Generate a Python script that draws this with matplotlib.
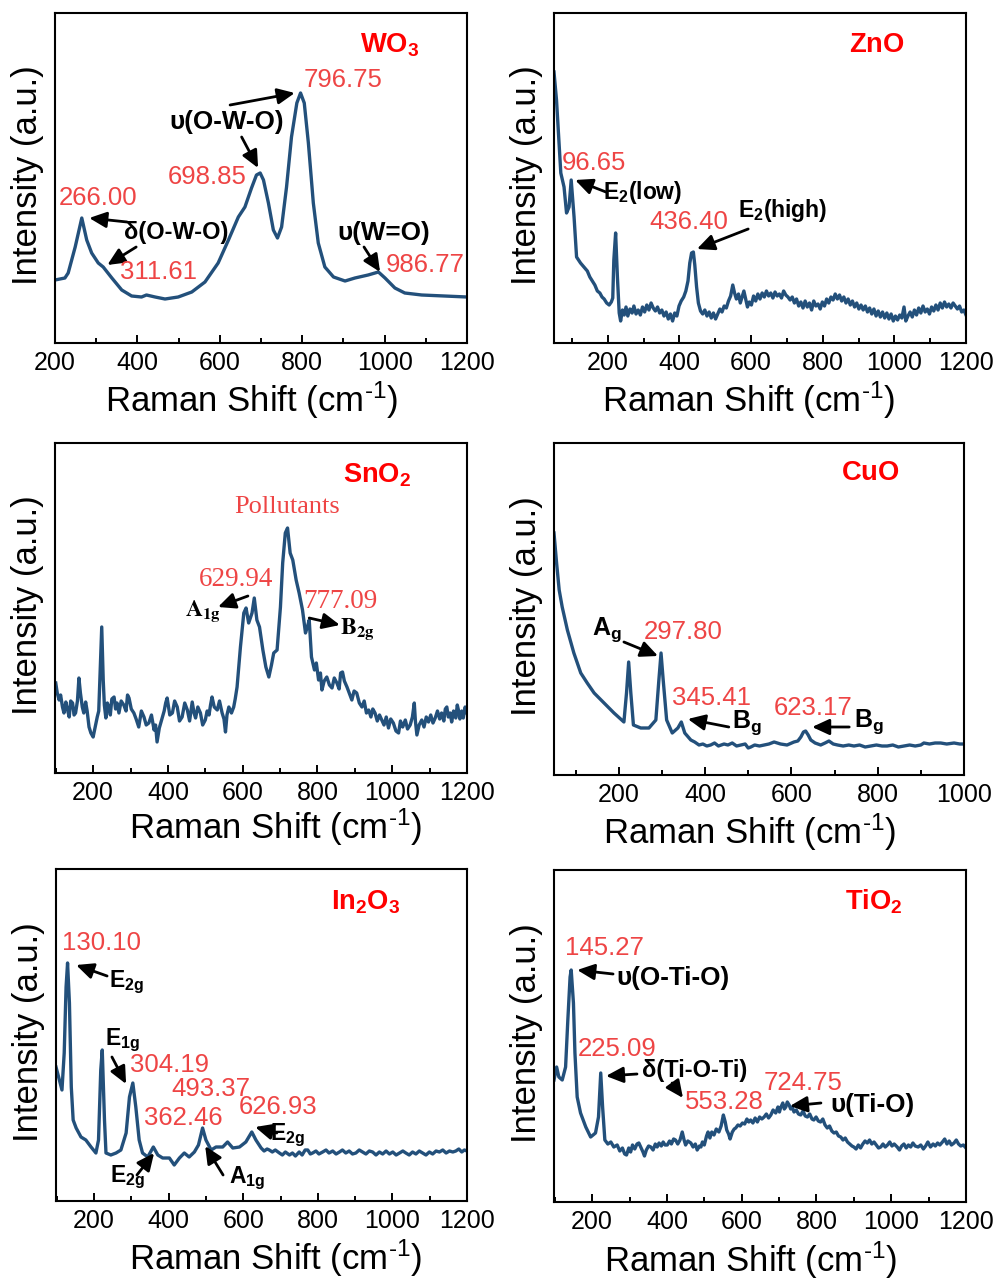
import matplotlib
matplotlib.use('Agg')
import matplotlib.pyplot as plt
from matplotlib.ticker import MultipleLocator

plt.rcParams['font.family'] = ['Liberation Sans', 'DejaVu Sans']
plt.rcParams['mathtext.fontset'] = 'custom'
plt.rcParams['mathtext.rm'] = 'Liberation Sans'
plt.rcParams['mathtext.bf'] = 'Liberation Sans:bold'
plt.rcParams['mathtext.it'] = 'Liberation Sans:italic'

# ---------------- data (Raman shift in cm-1, intensity in a.u.) ----------------
wo3_x = [200, 224, 232, 249, 265, 277, 289, 305, 317, 338, 362, 386, 410, 422, 443, 467, 499, 532, 564, 596,
         621, 645, 661, 677, 689, 698, 706, 718, 730, 740, 750, 762, 774, 787, 796, 805, 815, 827, 839, 855,
         876, 904, 928, 960, 985, 1001, 1025, 1049, 1090, 1200]
wo3_y = [63, 65, 70, 96, 125, 103, 90, 80, 76, 65, 53, 47, 46, 48, 46, 44, 46, 51, 61, 80,
         103, 126, 136, 155, 168, 170, 163, 140, 113, 105, 116, 156, 206, 240, 250, 240, 200, 140, 100, 76,
         66, 62, 65, 68, 71, 65, 55, 50, 48, 46]

zno_x = [50, 57, 64, 69, 78, 85, 92, 98, 106, 113, 124, 136, 143, 150, 157, 164, 171, 178, 184, 190,
         197, 204, 210, 214, 217, 222, 227, 232, 236, 241, 246, 251, 256, 262, 268, 273, 279, 285, 291, 297,
         303, 309, 315, 321, 327, 333, 339, 345, 351, 357, 363, 369, 375, 381, 387, 393, 399, 405, 412, 418,
         424, 429, 434, 439, 443, 448, 453, 459, 465, 471, 477, 483, 489, 495, 501, 507, 513, 519, 525, 531,
         537, 543, 549, 554, 559, 565, 570, 575, 580, 585, 590, 595, 601, 607, 613, 619, 625, 631, 637, 643,
         649, 655, 661, 667, 673, 679, 685, 691, 697, 703, 709, 715, 721, 727, 733, 739, 745, 751, 757, 763,
         769, 775, 781, 787, 793, 799, 805, 811, 817, 823, 829, 835, 841, 847, 853, 859, 865, 871, 877, 883,
         889, 895, 901, 907, 913, 919, 925, 931, 937, 943, 949, 955, 961, 967, 973, 979, 985, 991, 997, 1003,
         1009, 1015, 1021, 1027, 1032, 1038, 1044, 1050, 1056, 1062, 1068, 1074, 1080, 1086, 1092, 1098, 1104,
         1110, 1116, 1122, 1128, 1134, 1140, 1146, 1152, 1158, 1164, 1170, 1176, 1182, 1188, 1194, 1200]
zno_y = [271, 243, 200, 170, 156, 130, 136, 163, 126, 86, 80, 75, 72, 66, 62, 58, 52, 50, 46, 44,
         40, 38, 41, 45, 83, 110, 66, 30, 22, 33, 28, 36, 27, 34, 30, 37, 29, 33, 28, 36,
         31, 38, 33, 40, 35, 32, 36, 30, 33, 27, 31, 24, 29, 22, 30, 27, 37, 42, 46, 52,
         62, 80, 90, 91, 78, 56, 40, 32, 29, 33, 27, 31, 25, 30, 24, 29, 34, 31, 37, 35,
         42, 47, 58, 50, 44, 49, 40, 46, 52, 44, 36, 41, 38, 47, 42, 49, 44, 50, 46, 52,
         47, 50, 45, 51, 47, 49, 45, 52, 48, 46, 43, 46, 40, 44, 37, 41, 35, 42, 36, 40,
         33, 42, 37, 39, 34, 41, 37, 44, 40, 46, 43, 49, 44, 48, 42, 46, 40, 44, 38, 42,
         36, 40, 34, 38, 33, 37, 31, 35, 29, 34, 27, 32, 26, 31, 25, 30, 24, 29, 22, 27,
         23, 28, 25, 36, 22, 27, 31, 26, 33, 28, 35, 30, 37, 31, 34, 29, 36,
         32, 38, 33, 40, 35, 41, 36, 39, 35, 40, 37, 34, 37, 31, 33, 28]

sno2_x = [100, 104, 109, 113, 118, 122, 127, 131, 136, 140,
          145, 149, 153, 158, 162, 166, 171, 175, 180, 184,
          189, 194, 200, 205, 211, 215, 218, 223, 227, 230,
          234, 238, 242, 246, 250, 256, 260, 264, 269, 275,
          282, 288, 292, 296, 302, 309, 315, 322, 329, 336,
          342, 349, 356, 363, 367, 371, 377, 383, 390, 394,
          398, 405, 412, 418, 425, 431, 438, 445, 452, 458,
          465, 470, 474, 480, 487, 493, 500, 505, 510, 514,
          518, 524, 532, 538, 545, 550, 554, 558, 563, 570,
          576, 580, 585, 594, 603, 609, 616, 625, 631, 638,
          645, 654, 662, 670, 677, 683, 692, 701, 707, 714,
          720, 727, 734, 743, 751, 760, 768, 773, 778, 784,
          792, 797, 803, 808, 812, 818, 825, 832, 839, 845,
          852, 858, 862, 867, 872, 879, 885, 892, 898, 905,
          912, 919, 925, 931, 937, 943, 948, 954, 960, 966,
          972, 978, 984, 990, 996, 1003, 1010, 1017, 1022, 1028,
          1035, 1041, 1048, 1054, 1059, 1062, 1066, 1072, 1079, 1085,
          1091, 1097, 1103, 1109, 1115, 1121, 1127, 1132, 1138, 1142,
          1146, 1150, 1155, 1159, 1164, 1170, 1174, 1177, 1181, 1186,
          1190, 1195, 1200]
sno2_y = [90, 80, 73, 78, 66, 60, 71, 64, 56, 72,
          70, 58, 60, 72, 95, 80, 66, 60, 71, 62,
          46, 40, 36, 45, 56, 62, 93, 146, 93, 68,
          55, 70, 66, 58, 74, 76, 64, 70, 60, 72,
          68, 62, 78, 75, 64, 60, 54, 46, 62, 56,
          48, 50, 58, 43, 48, 31, 45, 53, 62, 70,
          75, 58, 60, 72, 66, 52, 56, 70, 63, 52,
          71, 60, 55, 66, 60, 48, 53, 62, 58, 68,
          76, 66, 63, 72, 60, 54, 41, 58, 66, 60,
          66, 74, 86, 126, 160, 165, 150, 160, 175, 153,
          146, 123, 106, 96, 108, 120, 123, 166, 210, 240,
          245, 220, 213, 193, 180, 163, 140, 146, 153, 116,
          103, 110, 93, 100, 83, 92, 96, 88, 85, 95,
          90, 84, 100, 101, 92, 86, 80, 73, 82, 80,
          70, 66, 72, 60, 63, 56, 64, 60, 52, 58,
          53, 48, 56, 45, 54, 50, 42, 40, 52, 46,
          53, 44, 48, 56, 70, 52, 38, 48, 53, 46,
          56, 51, 58, 50, 55, 62, 54, 60, 52, 64,
          66, 56, 60, 51, 62, 55, 68, 63, 54, 62,
          55, 66, 60]

cuo_x = [50, 56, 62, 69, 81, 96, 112, 127, 143, 166, 189, 212, 218, 223, 228, 234, 251, 270, 286, 293,
         298, 303, 311, 324, 337, 345, 353, 367, 376, 386, 395, 404, 413, 422, 431, 444, 453, 463, 473, 483,
         493, 500, 506, 515, 526, 537, 548, 560, 575, 590, 606, 615, 622, 628, 633, 639, 645, 655, 668, 678,
         687, 697, 707, 720, 733, 745, 758, 771, 784, 797, 810, 822, 835, 848, 861, 874, 887, 900, 907, 920,
         933, 946, 960, 977, 990, 1000]
cuo_y = [242, 212, 185, 168, 145, 122, 102, 92, 82, 72, 62, 53, 82, 113, 82, 50, 47, 47, 55, 95,
         122, 95, 55, 42, 47, 53, 42, 35, 33, 30, 31, 29, 30, 32, 29, 31, 30, 32, 29, 30,
         31, 27, 28, 30, 29, 30, 31, 33, 31, 30, 33, 34, 38, 43, 44, 40, 35, 32, 30, 32,
         34, 31, 30, 29, 30, 29, 30, 28, 29, 30, 29, 29, 30, 28, 29, 30, 29, 30, 32, 31,
         32, 32, 31, 32, 31, 31]

in2o3_x = [98, 105, 114, 120, 125, 129, 134, 139, 144, 152, 165, 178, 192, 205, 212, 218, 222, 228, 232, 245,
           259, 272, 286, 295, 304, 312, 321, 330, 344, 359, 371, 384, 402, 415, 429, 442, 455, 469, 480, 491,
           500, 514, 527, 545, 558, 572, 590, 607, 623, 634, 648, 656, 664, 670, 678, 686, 697, 705, 713, 724,
           732, 740, 750, 758, 766, 773, 780, 786, 795, 803, 813, 822, 830, 840, 849, 858, 866, 875, 884, 893,
           902, 911, 920, 929, 938, 947, 956, 965, 974, 983, 992, 1001, 1010, 1019, 1028, 1036, 1045, 1054,
           1063, 1072, 1081, 1090, 1099, 1108, 1117, 1126, 1135, 1144, 1153, 1162, 1170, 1178, 1186, 1193, 1200]
in2o3_y = [134, 124, 111, 148, 214, 238, 198, 114, 81, 73, 64, 61, 54, 48, 61, 131, 151, 81, 48, 46,
           48, 51, 68, 104, 118, 94, 61, 48, 44, 54, 46, 43, 43, 36, 43, 48, 44, 49, 56, 73,
           61, 51, 54, 54, 59, 53, 54, 59, 69, 61, 53, 50, 52, 51, 49, 51, 48, 46, 49, 46,
           48, 45, 49, 46, 51, 51, 47, 48, 50, 47, 49, 51, 48, 50, 47, 49, 51, 48, 50, 47,
           48, 51, 49, 47, 50, 49, 46, 49, 47, 50, 47, 49, 46, 48, 50, 48, 46, 49,
           47, 50, 48, 46, 49, 47, 50, 49, 51, 48, 50, 49, 50, 52, 49, 51, 50]

tio2_x = [98, 105, 111, 120, 129, 135, 141, 144, 150, 154, 160, 169, 183, 196, 209, 217, 223, 228, 234, 242,
          250, 258, 267, 274, 281, 287, 292, 298, 303, 308, 314, 320, 325, 331, 336, 340, 345, 351, 357, 363,
          369, 374, 379, 385, 390, 395, 401, 407, 412, 418, 423, 429, 435, 441, 446, 450, 456, 464, 470, 476,
          481, 487, 491, 495, 500, 506, 510, 515, 520, 526, 532, 539, 545, 551, 556, 560, 565, 569, 575, 580,
          584, 590, 596, 602, 608, 614, 619, 624, 630, 636, 642, 648, 654, 660, 666, 672, 678, 684, 691, 697,
          701, 704, 710, 714, 718, 722, 727, 731, 735, 740, 746, 752, 758, 764, 770, 776, 782, 788, 793, 799,
          805, 811, 817, 823, 829, 835, 841, 847, 853, 859, 865, 871, 877, 883, 889, 895, 900, 906, 912, 918,
          924, 930, 936, 942, 948, 954, 960, 966, 972, 978, 984, 990, 996, 1002, 1008, 1016, 1022, 1028, 1034,
          1040, 1046, 1052, 1058, 1064, 1072, 1079, 1086, 1092, 1098, 1105, 1112, 1118, 1124, 1130, 1137, 1143,
          1149, 1155, 1161, 1168, 1174, 1180, 1186, 1193, 1200]
tio2_y = [122, 135, 125, 122, 135, 182, 225, 232, 199, 149, 105, 89, 75, 65, 69, 85, 129, 95, 62, 58,
          60, 55, 57, 51, 54, 48, 47, 54, 50, 57, 53, 58, 59, 54, 50, 46, 52, 56, 55, 52,
          58, 55, 59, 56, 60, 57, 57, 61, 58, 63, 62, 58, 62, 70, 62, 57, 61, 59, 55, 58,
          52, 56, 55, 60, 57, 66, 70, 64, 70, 67, 73, 70, 76, 87, 80, 72, 68, 63, 70, 73,
          74, 77, 76, 79, 78, 83, 80, 82, 79, 84, 80, 85, 83, 85, 88, 84, 87, 92, 89, 95,
          90, 94, 99, 93, 95, 100, 97, 93, 95, 90, 92, 88, 87, 91, 86, 85, 88, 83, 82, 85,
          81, 80, 83, 77, 74, 76, 71, 69, 70, 66, 65, 62, 64, 60, 58, 56, 55, 53, 57, 54,
          58, 61, 59, 62, 58, 60, 57, 54, 55, 58, 55, 57, 60, 56, 58, 55, 52, 56, 58,
          54, 57, 55, 59, 56, 55, 57, 53, 56, 60, 55, 58, 56, 59, 57, 60, 63,
          58, 61, 57, 59, 62, 58, 56, 57, 54]

titles = [r'$\mathbf{WO_3}$', r'$\mathbf{ZnO}$', r'$\mathbf{SnO_2}$',
          r'$\mathbf{CuO}$', r'$\mathbf{In_2O_3}$', r'$\mathbf{TiO_2}$']

# ---------------- style ----------------
W, H = 997, 1279
LINE = '#23507B'
NUM = '#EE4545'
TITLE = '#FF0000'
LW = 2.4

fig = plt.figure(figsize=(W / 100, H / 100), dpi=100)


def add_ax(l, r, t, b):
    return fig.add_axes([l / W, 1 - b / H, (r - l) / W, (b - t) / H])


def style(ax, xlim, ymax, xlab_x, xlab_y):
    ax.set_xlim(*xlim)
    ax.set_ylim(0, ymax)
    ax.set_yticks([])
    ax.xaxis.set_major_locator(MultipleLocator(200))
    ax.xaxis.set_minor_locator(MultipleLocator(100))
    ax.tick_params(axis='x', which='both', direction='in', top=False, labelsize=18, width=1.4, pad=6)
    ax.tick_params(axis='x', which='major', length=6)
    ax.tick_params(axis='x', which='minor', length=3.5)
    for s in ax.spines.values():
        s.set_linewidth(1.5)
    ax.set_xlabel('Raman Shift (cm$^{\u2010\\mathrm{1}}$)', fontsize=25, va='center')
    ax.xaxis.set_label_coords(xlab_x, xlab_y)
    ax.set_ylabel('Intensity (a.u.)', fontsize=25, va='center', ha='center')
    ax.yaxis.set_label_coords(-0.066, 0.51)


def arrow(ax, tail, tip):
    ax.annotate('', xy=tip, xytext=tail,
                arrowprops=dict(arrowstyle='-|>,head_length=0.65,head_width=0.3', color='black',
                                lw=2.0, shrinkA=0, shrinkB=0, mutation_scale=16))


def num(ax, x, y, s, **kw):
    ax.text(x, y, s, ha='center', va='center', fontsize=18.5, color=NUM, **kw)


def lab(ax, x, y, s, size=17, **kw):
    ax.text(x, y, s, ha='center', va='center', fontsize=size, color='black', fontweight='bold', **kw)


def title(ax, x, y, s):
    ax.text(x, y, s, ha='center', va='center', fontsize=19.7, color=TITLE)


UPS = 18.7

# ---------------- WO3 ----------------
ax = add_ax(55, 467, 13, 343)
ax.plot(wo3_x, wo3_y, color=LINE, lw=LW)
style(ax, (200, 1200), 330, 0.478, -0.173)
title(ax, 1013, 298, titles[0])
num(ax, 899, 263, '796.75')
arrow(ax, (625, 238), (782, 250))
lab(ax, 617, 221, 'υ(O-W-O)', size=UPS)
arrow(ax, (653, 206), (693, 175))
num(ax, 569, 166, '698.85')
num(ax, 305, 145, '266.00')
arrow(ax, (375, 121), (283, 125))
lab(ax, 495, 111, 'δ(O-W-O)')
arrow(ax, (397, 96), (327, 78))
num(ax, 451, 71, '311.61')
lab(ax, 997, 110, 'υ(W=O)', size=UPS)
arrow(ax, (950, 96), (989, 71))
num(ax, 1098, 78, '986.77')

# ---------------- ZnO ----------------
ax = add_ax(554, 966, 13, 343)
ax.plot(zno_x, zno_y, color=LINE, lw=LW)
style(ax, (50, 1200), 330, 0.473, -0.173)
title(ax, 952, 298, titles[1])
num(ax, 162, 180, '96.65')
arrow(ax, (195, 151), (109, 163))
lab(ax, 298, 150, r'$\mathbf{E_2(low)}$', size=16.5)
lab(ax, 689, 133, r'$\mathbf{E_2(high)}$', size=16.5)
arrow(ax, (592, 114), (449, 94))
num(ax, 427, 121, '436.40')

# ---------------- SnO2 ----------------
ax = add_ax(55, 467, 443, 773)
ax.plot(sno2_x, sno2_y, color=LINE, lw=LW)
style(ax, (98, 1200), 330, 0.536, -0.164)
title(ax, 959, 298, titles[2])
ax.text(719, 266, 'Pollutants', ha='center', va='center', fontsize=19, color=NUM, family='Liberation Serif')
ax.text(582, 193, '629.94', ha='center', va='center', fontsize=19.5, color=NUM, family='Liberation Serif')
arrow(ax, (614, 177), (534, 166))
ax.text(494, 162, r'$\mathbf{A_{1g}}$', ha='center', va='center', fontsize=17, color='black',
        math_fontfamily='stix')
ax.text(860, 172, '777.09', ha='center', va='center', fontsize=19.5, color=NUM, family='Liberation Serif')
arrow(ax, (778, 155), (860, 148))
ax.text(906, 144, r'$\mathbf{B_{2g}}$', ha='center', va='center', fontsize=17, color='black',
        math_fontfamily='stix')

# ---------------- CuO ----------------
ax = add_ax(554, 964, 443, 775)
ax.plot(cuo_x, cuo_y, color=LINE, lw=LW)
style(ax, (50, 1000), 332, 0.476, -0.172)
title(ax, 782, 302, titles[3])
lab(ax, 173, 145, r'$\mathbf{A_g}$', size=18)
arrow(ax, (212, 133), (291, 119))
num(ax, 349, 143, '297.80')
num(ax, 414, 77, '345.41')
arrow(ax, (455, 48), (360, 56))
lab(ax, 497, 52, r'$\mathbf{B_g}$', size=18)
num(ax, 650, 67, '623.17')
arrow(ax, (734, 48), (648, 48))
lab(ax, 780, 53, r'$\mathbf{B_g}$', size=18)

# ---------------- In2O3 ----------------
ax = add_ax(56, 467, 869, 1201)
ax.plot(in2o3_x, in2o3_y, color=LINE, lw=LW)
style(ax, (98, 1200), 332, 0.535, -0.172)
title(ax, 929, 299, titles[4])
num(ax, 221, 258, '130.10')
arrow(ax, (235, 225), (152, 236))
lab(ax, 288, 219, r'$\mathbf{E_{2g}}$', size=16.5)
lab(ax, 275, 161, r'$\mathbf{E_{1g}}$', size=16.5)
arrow(ax, (248, 144), (286, 117))
num(ax, 401, 136, '304.19')
num(ax, 514, 112, '493.37')
num(ax, 439, 83, '362.46')
num(ax, 693, 94, '626.93')
arrow(ax, (690, 68), (632, 74))
lab(ax, 720, 66, r'$\mathbf{E_{2g}}$', size=16.5)
lab(ax, 291, 24, r'$\mathbf{E_{2g}}$', size=16.5)
arrow(ax, (315, 26), (361, 48))
lab(ax, 610, 23, r'$\mathbf{A_{1g}}$', size=16.5)
arrow(ax, (546, 26), (498, 55))

# ---------------- TiO2 ----------------
ax = add_ax(554, 966, 870, 1202)
ax.plot(tio2_x, tio2_y, color=LINE, lw=LW)
style(ax, (98, 1200), 332, 0.476, -0.175)
title(ax, 954, 300, titles[5])
num(ax, 232, 254, '145.27')
arrow(ax, (256, 228), (160, 232))
lab(ax, 416, 224, 'υ(O-Ti-O)', size=UPS)
num(ax, 267, 153, '225.09')
arrow(ax, (320, 128), (237, 126))
lab(ax, 475, 132, 'δ(Ti-O-Ti)', size=17)
arrow(ax, (414, 119), (443, 104))
num(ax, 553, 100, '553.28')
num(ax, 764, 119, '724.75')
arrow(ax, (812, 99), (729, 96))
lab(ax, 951, 97, 'υ(Ti-O)', size=UPS)

fig.savefig('out.png', dpi=100)
